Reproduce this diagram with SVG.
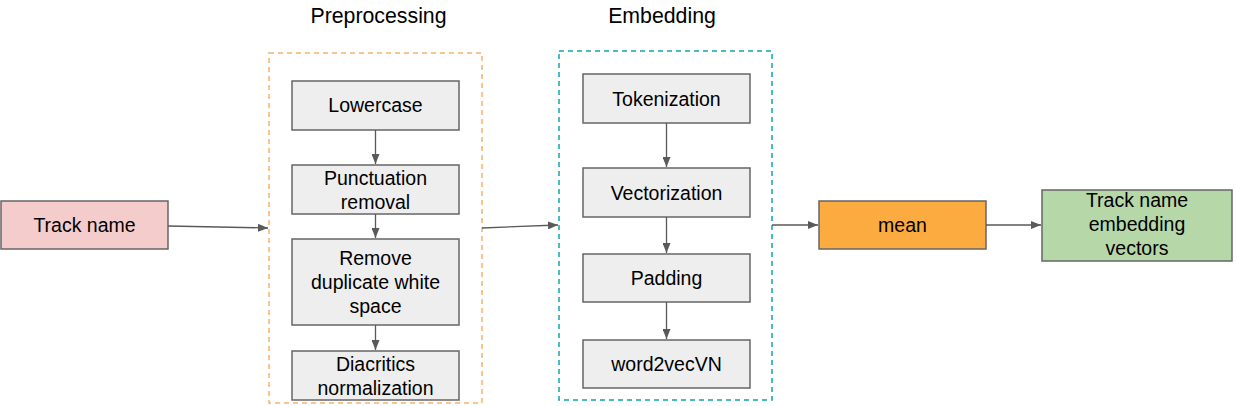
<svg xmlns="http://www.w3.org/2000/svg" width="1237" height="406" viewBox="0 0 1237 406">
<defs>
<marker id="ah" viewBox="0 0 10 8" refX="10" refY="4" markerWidth="10" markerHeight="8" markerUnits="userSpaceOnUse" orient="auto">
<path d="M0,0 L10,4 L0,8 Z" fill="#595959"/>
</marker>
<style>
text{font-family:"Liberation Sans",Arial,sans-serif;font-size:19.5px;fill:#000;text-anchor:middle}
.t{font-size:21.3px}
.b{fill:#eeeeee;stroke:#666666;stroke-width:1.5}
.c{fill:none;stroke:#595959;stroke-width:1.3;marker-end:url(#ah)}
</style>
</defs>
<rect width="1237" height="406" fill="#ffffff"/>
<g id="preprocessing">
<rect x="269" y="53" width="213" height="350" fill="none" stroke="#f6b26b" stroke-width="1.5" stroke-dasharray="5,4"/>
<text class="t" x="378.5" y="23">Preprocessing</text>
</g>
<g id="embedding">
<rect x="559" y="51" width="213" height="349" fill="none" stroke="#12a4af" stroke-width="1.5" stroke-dasharray="5,4"/>
<text class="t" x="662" y="23">Embedding</text>
</g>
<g id="track-name">
<rect x="1" y="201" width="167" height="48" fill="#f4cccc" stroke="#666666" stroke-width="1.5"/>
<text x="84.5" y="232">Track name</text>
</g>
<g id="lowercase">
<rect class="b" x="292" y="81" width="167" height="49"/>
<text x="375.5" y="112">Lowercase</text>
</g>
<g id="punctuation">
<rect class="b" x="292" y="165" width="167" height="49"/>
<text x="375.5" y="185">Punctuation</text>
<text x="375.5" y="209">removal</text>
</g>
<g id="whitespace">
<rect class="b" x="292" y="239" width="167" height="86"/>
<text x="375.5" y="265">Remove</text>
<text x="375.5" y="289">duplicate white</text>
<text x="375.5" y="313">space</text>
</g>
<g id="diacritics">
<rect class="b" x="292" y="351" width="167" height="49"/>
<text x="375.5" y="371">Diacritics</text>
<text x="375.5" y="395">normalization</text>
</g>
<g id="tokenization">
<rect class="b" x="583" y="74" width="167" height="49"/>
<text x="666.5" y="106">Tokenization</text>
</g>
<g id="vectorization">
<rect class="b" x="583" y="168" width="167" height="49"/>
<text x="666.5" y="200">Vectorization</text>
</g>
<g id="padding">
<rect class="b" x="583" y="254" width="167" height="48"/>
<text x="666.5" y="285">Padding</text>
</g>
<g id="word2vec">
<rect class="b" x="583" y="340" width="167" height="48"/>
<text x="666.5" y="371">word2vecVN</text>
</g>
<g id="mean">
<rect x="819" y="201" width="167" height="48" fill="#fbab40" stroke="#666666" stroke-width="1.5"/>
<text x="902.5" y="232">mean</text>
</g>
<g id="output">
<rect x="1042" y="190" width="190" height="71" fill="#b6d7a8" stroke="#666666" stroke-width="1.5"/>
<text x="1137" y="207">Track name</text>
<text x="1137" y="231">embedding</text>
<text x="1137" y="255">vectors</text>
</g>
<g id="connectors">
<line class="c" x1="168" y1="226" x2="268" y2="228"/>
<line class="c" x1="375.5" y1="130" x2="375.5" y2="164"/>
<line class="c" x1="375.5" y1="214" x2="375.5" y2="238"/>
<line class="c" x1="375.5" y1="325" x2="375.5" y2="350"/>
<line class="c" x1="482" y1="228" x2="558" y2="225"/>
<line class="c" x1="666.5" y1="123" x2="666.5" y2="167"/>
<line class="c" x1="666.5" y1="217" x2="666.5" y2="253"/>
<line class="c" x1="666.5" y1="302" x2="666.5" y2="339"/>
<line class="c" x1="772" y1="225" x2="818" y2="225"/>
<line class="c" x1="986" y1="225" x2="1041" y2="225"/>
</g>
</svg>
